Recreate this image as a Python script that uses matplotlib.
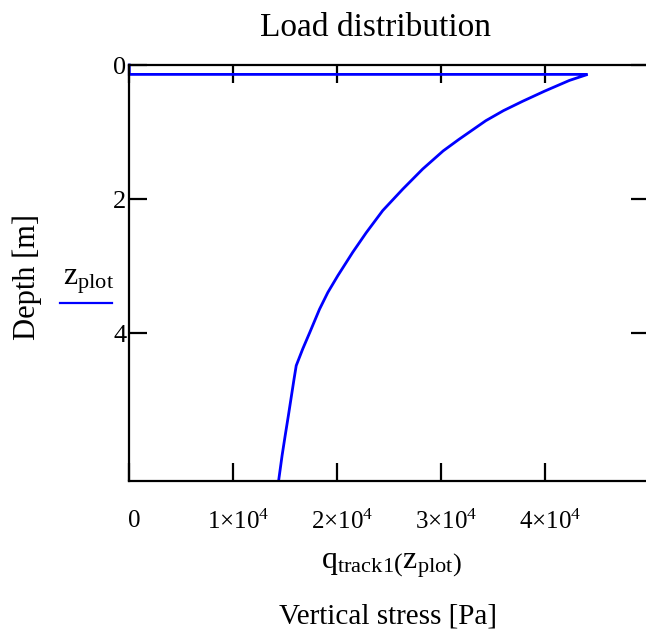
import matplotlib
matplotlib.use("Agg")
import matplotlib.pyplot as plt
from matplotlib.ticker import FuncFormatter, FixedLocator
from matplotlib.transforms import ScaledTranslation

plt.rcParams["font.family"] = ["Liberation Serif", "DejaVu Serif"]
plt.rcParams["mathtext.fontset"] = "custom"
plt.rcParams["mathtext.rm"] = "Liberation Serif"
plt.rcParams["mathtext.it"] = "Liberation Serif:italic"

# Depth below surface [m] and vertical stress under track 1 [Pa]
z_plot = [0.0, 0.14, 0.14, 0.23, 0.39, 0.54, 0.68, 0.83, 1.11, 1.28, 1.55,
          1.85, 2.17, 2.50, 2.79, 3.14, 3.39, 3.64, 3.98, 4.23, 4.48, 4.68,
          4.88, 5.23, 5.52, 5.82, 6.18]
q_track1 = [0, 0, 44100, 42340, 39950, 37850, 36000, 34300, 31700, 30200, 28230,
            26310, 24380, 22790, 21500, 20060, 19100, 18300, 17380, 16690, 16060,
            15850, 15650, 15300, 15000, 14700, 14380]

x_ticks = [0, 10000, 20000, 30000, 40000]
y_ticks = [0, 2, 4]

W, H = 646, 636
fig = plt.figure(figsize=(W / 100, H / 100), dpi=100)
ax = fig.add_axes([129.3 / W, 1 - 481 / H, (649 - 129.3) / W, (481 - 65) / H])

ax.plot(q_track1, z_plot, color="#0000ff", lw=2.0, solid_joinstyle="miter",
        clip_on=False)

ax.set_xlim(0, 50000)
ax.set_ylim(6.2, 0)

for s in ["left", "top", "bottom", "right"]:
    ax.spines[s].set_linewidth(1.6)
    ax.spines[s].set_color("black")

ax.xaxis.set_major_locator(FixedLocator(x_ticks))
ax.yaxis.set_major_locator(FixedLocator(y_ticks))


def sci_fmt(v, pos):
    if v == 0:
        return "0"
    return r"$\mathrm{%d{\times}10^{4}}$" % round(v / 1e4)


ax.xaxis.set_major_formatter(FuncFormatter(sci_fmt))
ax.yaxis.set_major_formatter(FuncFormatter(lambda v, p: "%d" % v))

ax.tick_params(axis="both", direction="in", length=13, width=1.6,
               top=True, right=True, labelsize=18, colors="black")
ax.tick_params(axis="x", pad=21)
ax.tick_params(axis="y", pad=2, labelsize=19)

shift = ScaledTranslation(5 / 100, 0, fig.dpi_scale_trans)
for lab in ax.get_xticklabels():
    lab.set_transform(lab.get_transform() + shift)

fig.text(376 / W, 1 - 28 / H, "Load distribution", ha="center", va="center",
         fontsize=24)
fig.text(392 / W, 1 - 566 / H,
         r"$\mathrm{q}_{\mathrm{track1}}\left(\mathrm{z}_{\mathrm{plot}}\right)$",
         ha="center", va="center", fontsize=23)
fig.text(388 / W, 1 - 617 / H, "Vertical stress [Pa]", ha="center", va="center",
         fontsize=21)
fig.text(27 / W, 1 - 277 / H, "Depth [m]", ha="center", va="center",
         rotation=90, fontsize=22)
fig.text(89 / W, 1 - 282 / H, r"$\mathrm{z}_{\mathrm{plot}}$", ha="center",
         va="center", fontsize=23)
fig.add_artist(plt.Line2D([60 / W, 112 / W], [1 - 302.7 / H, 1 - 302.7 / H],
                          color="#0000ff", lw=1.6, transform=fig.transFigure))

fig.savefig("out.png", dpi=100)
